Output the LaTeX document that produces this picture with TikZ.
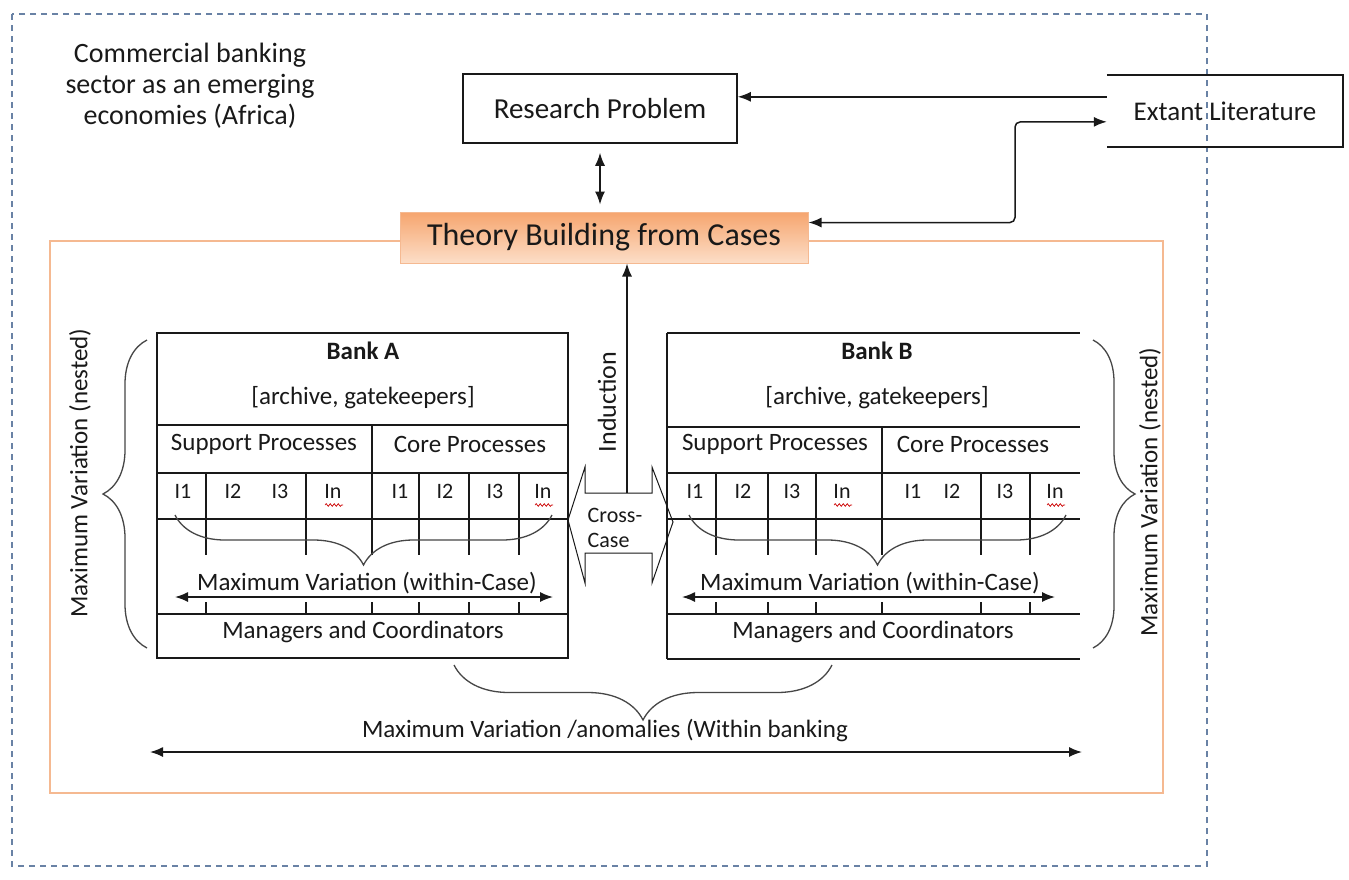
\documentclass[tikz,border=0pt]{standalone}
\usepackage{fontspec}
\setmainfont{Carlito}
\usetikzlibrary{arrows.meta,decorations.pathreplacing,decorations.pathmorphing,calc}
\definecolor{dashblue}{RGB}{105,130,165}
\definecolor{orangeline}{RGB}{245,185,145}
\definecolor{orangetop}{RGB}{246,165,110}
\definecolor{orangebot}{RGB}{252,222,200}
\definecolor{ink}{RGB}{25,25,25}
\definecolor{bracegray}{RGB}{70,70,70}
\begin{document}
\begin{tikzpicture}[x=1pt,y=-1pt,
  lbl/.style={font=\fontsize{25}{30}\selectfont, text=ink, inner sep=0pt},
  boldlbl/.style={font=\fontsize{25}{30}\selectfont\bfseries, text=ink, inner sep=0pt},
  ilbl/.style={font=\fontsize{22}{26}\selectfont, text=ink, inner sep=0pt},
  boxstyle/.style={draw=ink, line width=1.5pt, inner sep=0pt},
  gridline/.style={draw=ink, line width=1.5pt},
  arr/.style={-{Latex[length=13pt,width=10pt]}, line width=1.5pt, draw=ink},
  dblarr/.style={{Latex[length=13pt,width=10pt]}-{Latex[length=13pt,width=10pt]}, line width=1.5pt, draw=ink},
  bracestyle/.style={decorate, decoration={brace, amplitude=#1}, draw=bracegray, line width=1.3pt},
  wavy/.style={draw=red!80!black, line width=0.7pt, decorate, decoration={snake, amplitude=1.3pt, segment length=4pt}}
]
\useasboundingbox (0,0) rectangle (1349,879);
\fill[white] (0,0) rectangle (1349,879);

% outer dashed frame
\draw[dashblue, line width=1.5pt, dash pattern=on 6pt off 5pt] (12,14) rectangle (1207,866);

% context text
\node[font=\fontsize{28}{31}\selectfont, text=ink, align=center, inner sep=0pt] (ctx) at (190,86)
  {Commercial banking\\sector as an emerging\\economies (Africa)};

% orange frame
\draw[orangeline, line width=2.5pt] (50,241) rectangle (1163,793);

% theory building
\node[top color=orangetop, bottom color=orangebot, draw=orangeline, line width=1pt,
      minimum width=408pt, minimum height=51pt, inner sep=0pt,
      font=\fontsize{32}{36}\selectfont, text=ink] (theory) at (604,237.5) {Theory Building from Cases};

% research problem
\node[boxstyle, minimum width=274pt, minimum height=69pt, font=\fontsize{29}{33}\selectfont, text=ink] (rp) at (600,108.5) {Research Problem};

% extant literature (open on the left)
\node[minimum width=236pt, minimum height=72pt, inner sep=0pt, font=\fontsize{27}{31}\selectfont, text=ink] (ext) at (1225,111) {Extant Literature};
\draw[ink, line width=1.5pt] (ext.north west) -- (ext.north east) -- (ext.south east) -- (ext.south west);

% connectors top
\draw[arr] ($(ext.north west)+(0,22)$) -- ($(rp.east |- ext.north west)+(0,22)$);
\draw[dblarr, rounded corners=5pt] ($(theory.east)+(0,-15)$) -- (1015,222.5) -- (1015,122) -- ($(ext.north west)+(0,47)$);
\draw[dblarr, shorten <=9pt, shorten >=7pt] (rp.south) -- (rp.south |- theory.north);

% cross-case shape
\draw[ink, line width=1pt, fill=white] (568,520) -- (585,467) -- (585,493) -- (652,493) -- (652,467) -- (673,522)
  -- (652,583) -- (652,553) -- (585,553) -- (585,583) -- cycle;
\node[font=\fontsize{22}{25}\selectfont, text=ink, align=left, inner sep=0pt] (cc) at (615,528) {Cross-\\Case};
\coordinate (indS) at (627,493);
\draw[arr] (indS) -- (indS |- theory.south);
\node[font=\fontsize{26}{30}\selectfont, text=ink, rotate=90, inner sep=0pt] (ind) at (607,402) {Induction};

% ---------- Bank A ----------
\node[boxstyle, minimum width=411pt, minimum height=325pt] (bankA) at (362.5,495.5) {};
\foreach \y in {425,473,519,614} \draw[gridline] (157,\y) -- (568,\y);
\draw[gridline] (372,425) -- (372,555);
\draw[gridline] (372,602) -- (372,614);
\foreach \x in {206,306,419,469,519} {
  \draw[gridline] (\x,473) -- (\x,555);
  \draw[gridline] (\x,602) -- (\x,614);
}
\node[boldlbl] (bAt) at (363,351) {Bank A};
\node[lbl] (bAarc) at (363,398) {[archive, gatekeepers]};
\node[lbl] (bAsp) at (264,444) {Support Processes};
\node[lbl] (bAcp) at (470,444) {Core Processes};
\foreach \x/\t [count=\i] in {183/I1,233/I2,280/I3,333/In,400/I1,445/I2,495/I3,543/In}
  \node[ilbl] (bAi\i) at (\x,491) {\t};
\draw[wavy] (325,505) -- (343,505);
\draw[wavy] (535,505) -- (553,505);
\draw[bracestyle=50pt] (552,515) -- (175,515);
\node[lbl] (bAmv) at (367,583) {Maximum Variation (within-Case)};
\coordinate (aL) at (175,597); \coordinate (aR) at (553,597);
\draw[dblarr] (aL) -- (aR);
\node[lbl] (bAmc) at (363,632) {Managers and Coordinators};

% ---------- Bank B ----------
\foreach \y in {333,427,473,519,614,659} \draw[gridline] (667,\y) -- (1080,\y);
\draw[gridline] (667,333) -- (667,659);
\draw[gridline] (882,427) -- (882,555);
\draw[gridline] (882,602) -- (882,614);
\foreach \x in {716,768,816,981,1030} {
  \draw[gridline] (\x,473) -- (\x,555);
  \draw[gridline] (\x,602) -- (\x,614);
}
\node[boldlbl] (bBt) at (877,351) {Bank B};
\node[lbl] (bBarc) at (877,398) {[archive, gatekeepers]};
\node[lbl] (bBsp) at (775,444) {Support Processes};
\node[lbl] (bBcp) at (973,444) {Core Processes};
\foreach \x/\t [count=\i] in {695/I1,743/I2,792/I3,842/In,913/I1,952/I2,1005/I3,1055/In}
  \node[ilbl] (bBi\i) at (\x,491) {\t};
\draw[wavy] (834,505) -- (852,505);
\draw[wavy] (1047,505) -- (1065,505);
\draw[bracestyle=50pt] (1066,515) -- (689,515);
\node[lbl] (bBmv) at (870,583) {Maximum Variation (within-Case)};
\coordinate (bL) at (682,597); \coordinate (bR) at (1055,597);
\draw[dblarr] (bL) -- (bR);
\node[lbl] (bBmc) at (873,632) {Managers and Coordinators};

% ---------- nested braces ----------
\draw[bracestyle=44pt] (147,648) -- (147,340);
\node[lbl, rotate=90] (nestL) at (80,473) {Maximum Variation (nested)};
\draw[bracestyle=42pt] (1093,340) -- (1093,648);
\node[lbl, rotate=90] (nestR) at (1150,492) {Maximum Variation (nested)};

% ---------- across banking ----------
\draw[bracestyle=55pt] (832,665) -- (454,665);
\node[lbl] (anom) at (605,730) {Maximum Variation /anomalies (Within banking};
\coordinate (wL) at (150,752); \coordinate (wR) at (1082,752);
\draw[dblarr] (wL) -- (wR);
\end{tikzpicture}
\end{document}
